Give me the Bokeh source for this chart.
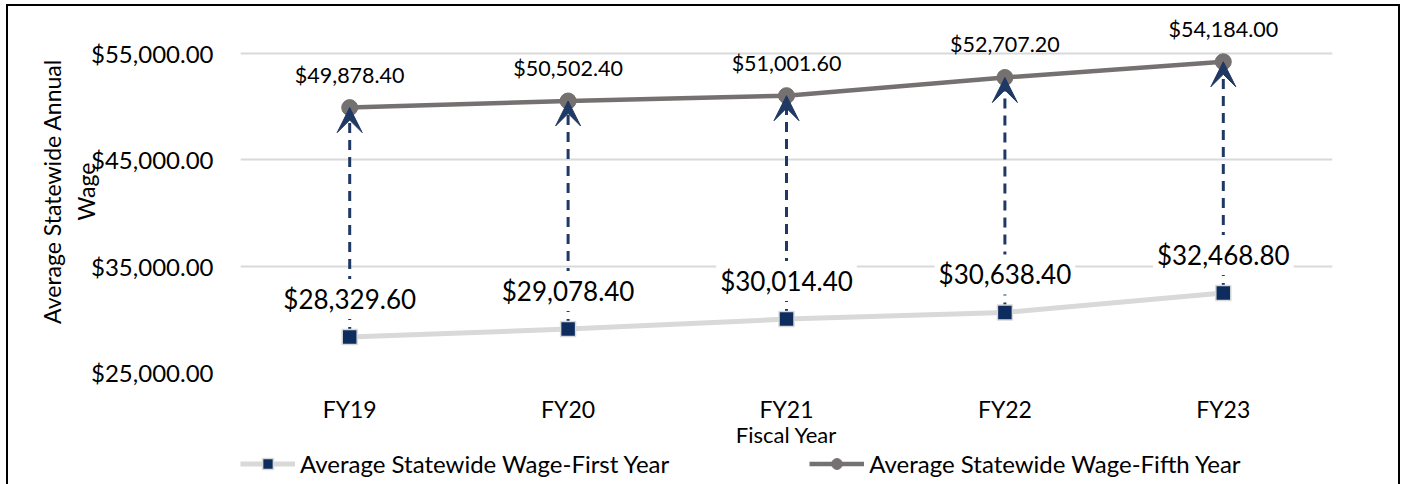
from bokeh.plotting import figure
from bokeh.layouts import column
from bokeh.models import (ColumnDataSource, FixedTicker, NumeralTickFormatter, Range1d,
                          Arrow, VeeHead, Legend, LegendItem)
from bokeh.core.properties import value
from bokeh.embed import file_html
from bokeh.resources import INLINE

# ---- data ----
fiscal_years = ["FY19", "FY20", "FY21", "FY22", "FY23"]
first_year = [28329.60, 29078.40, 30014.40, 30638.40, 32468.80]
fifth_year = [49878.40, 50502.40, 51001.60, 52707.20, 54184.00]
y_ticks = [25000, 35000, 45000, 55000]
series_names = ["Average Statewide Wage-First Year", "Average Statewide Wage-Fifth Year"]
x_title = "Fiscal Year"
y_title = "Average Statewide Annual\nWage"

FONT = "Lato"
NAVY = "#1F3864"
SQ_FILL = "#0E2D5E"
LIGHT = "#D9D9D9"
DARK = "#767171"

xs = [i + 0.5 for i in range(len(fiscal_years))]
src = ColumnDataSource(dict(
    x=xs, first=first_year, fifth=fifth_year,
    first_lbl=[f"${v:,.2f}" for v in first_year],
    fifth_lbl=[f"${v:,.2f}" for v in fifth_year],
))

p = figure(width=1390, height=444, output_backend="svg", toolbar_location=None,
           x_range=Range1d(0, len(fiscal_years)), y_range=Range1d(25000, 59000),
           min_border_left=232, min_border_right=66, min_border_top=4, min_border_bottom=76)
p.outline_line_color = None
p.background_fill_color = "white"
p.border_fill_color = "white"

# axes
p.xaxis.ticker = FixedTicker(ticks=xs)
p.xaxis.major_label_overrides = {x: fy for x, fy in zip(xs, fiscal_years)}
p.yaxis.ticker = FixedTicker(ticks=y_ticks)
p.yaxis.formatter = NumeralTickFormatter(format="$0,0.00")
for ax in (p.xaxis, p.yaxis):
    ax.axis_line_color = None
    ax.major_tick_line_color = None
    ax.minor_tick_line_color = None
    ax.major_tick_out = 0
    ax.major_tick_in = 0
    ax.major_label_text_font = FONT
    ax.major_label_text_color = "black"
    ax.axis_label_text_font = FONT
    ax.axis_label_text_font_style = "normal"
    ax.axis_label_text_color = "black"
p.xaxis.major_label_text_font_size = "23px"
p.xaxis.major_label_standoff = 22
p.xaxis.axis_label = x_title
p.xaxis.axis_label_text_font_size = "22px"
p.xaxis.axis_label_standoff = -5
p.yaxis.major_label_text_font_size = "24px"
p.yaxis.major_label_standoff = 27
p.yaxis.axis_label = y_title
p.yaxis.axis_label_text_font_size = "23px"
p.yaxis.axis_label_standoff = -12
p.xgrid.grid_line_color = None
p.ygrid.grid_line_color = LIGHT
p.ygrid.grid_line_width = 2

# dashed connectors
p.segment(x0="x", y0="first", x1="x", y1="fifth", source=src,
          line_color=NAVY, line_width=3, line_dash="10 7")

# series
l1 = p.line("x", "first", source=src, line_color=LIGHT, line_width=5)
s1 = p.scatter("x", "first", source=src, marker="square", size=15,
               fill_color=SQ_FILL, line_color=LIGHT, line_width=1.5)
l2 = p.line("x", "fifth", source=src, line_color=DARK, line_width=4.5)
s2 = p.scatter("x", "fifth", source=src, marker="circle", size=16,
               fill_color=DARK, line_color=DARK)

# data labels
p.text("x", "first", text="first_lbl", source=src, y_offset=-38,
       text_align="center", text_baseline="middle", text_font=value(FONT),
       text_font_size="26px", text_color="black",
       background_fill_color="white", padding=4)
p.text("x", "fifth", text="fifth_lbl", source=src, y_offset=-33,
       text_align="center", text_baseline="middle", text_font=value(FONT),
       text_font_size="21.5px", text_color="black")

# arrow heads
p.add_layout(Arrow(end=VeeHead(size=25, fill_color=NAVY, line_color=NAVY),
                   x_start="x", y_start="first", x_end="x", y_end="fifth",
                   source=src, line_alpha=0))

# legend strip (separate figure so the legend is not clipped);
# its renderers use the same data but fall outside its 0..1 y range
pl = figure(width=1390, height=40, output_backend="svg", toolbar_location=None,
            x_range=Range1d(0, len(fiscal_years)), y_range=Range1d(0, 1),
            x_axis_location=None, y_axis_location=None, min_border=0)
pl.outline_line_color = None
pl.xgrid.grid_line_color = None
pl.ygrid.grid_line_color = None
pl1 = pl.line("x", "first", source=src, line_color=LIGHT, line_width=5)
ps1 = pl.scatter("x", "first", source=src, marker="square", size=15,
                 fill_color=SQ_FILL, line_color=LIGHT, line_width=1.5)
pl2 = pl.line("x", "fifth", source=src, line_color=DARK, line_width=4.5)
ps2 = pl.scatter("x", "fifth", source=src, marker="circle", size=16,
                 fill_color=DARK, line_color=DARK)
legend = Legend(items=[LegendItem(label=series_names[0], renderers=[pl1, ps1]),
                       LegendItem(label=series_names[1], renderers=[pl2, ps2])],
                orientation="horizontal", location=(0, 12),
                glyph_width=55, glyph_height=27, label_standoff=5, spacing=140,
                padding=0, margin=0, border_line_color=None, background_fill_alpha=0,
                label_text_font=FONT, label_text_font_size="24px", label_text_color="black")
pl.add_layout(legend)

root = column(p, pl, spacing=0,
              styles={"border": "2px solid black", "margin-left": "6px", "margin-top": "4px"})

open("out.html", "w").write(file_html(root, INLINE))
